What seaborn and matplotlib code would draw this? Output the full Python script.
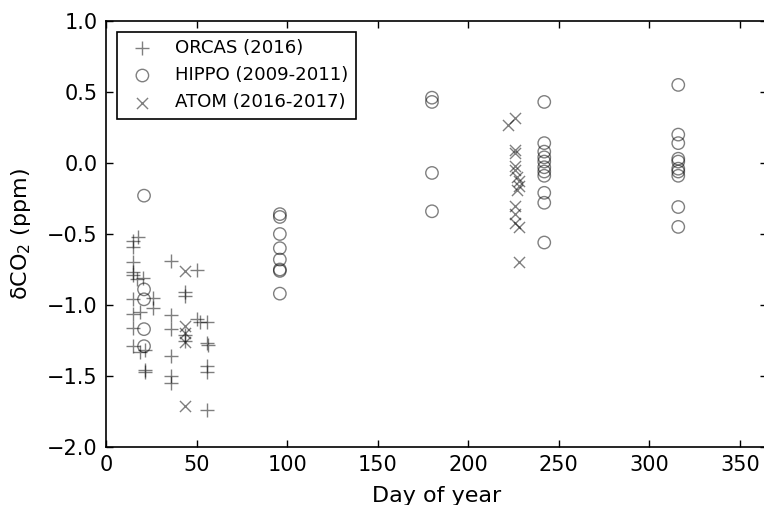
# Scatter of delta CO2 against day of year for three aircraft campaigns

import matplotlib
matplotlib.use('Agg')
import matplotlib.pyplot as plt
import seaborn as sns

# ORCAS (2016)
orcas_day = [17.8, 15.1, 15.1, 15.1, 15.1, 15.1, 17.0, 20.2, 15.1, 26.1, 26.1,
             18.8, 15.1, 15.1, 18.8, 21.5, 21.5, 15.1, 21.5,
             35.9, 50.1, 43.6, 43.6, 35.9, 35.9, 43.6, 43.6, 50.1, 52.0, 55.6,
             55.6, 56.5, 55.6, 55.6, 35.9, 35.9, 35.9, 55.6]
orcas_dco2 = [-0.52, -0.55, -0.59, -0.70, -0.77, -0.79, -0.82, -0.81, -0.96, -0.95, -1.02,
              -1.05, -1.16, -1.29, -1.33, -1.46, -1.47, -1.06, -1.32,
              -0.69, -0.75, -0.91, -0.94, -1.07, -1.17, -1.21, -1.25, -1.10, -1.12, -1.12,
              -1.27, -1.28, -1.43, -1.47, -1.36, -1.50, -1.55, -1.74]

# HIPPO (2009-2011)
hippo_day = [21, 21, 21, 21, 21,
             96, 96, 96, 96, 96, 96, 96, 96,
             180, 180, 180, 180,
             242, 242, 242, 242, 242, 242, 242, 242, 242, 242, 242,
             316, 316, 316, 316, 316, 316, 316, 316, 316, 316]
hippo_dco2 = [-0.23, -0.89, -0.96, -1.17, -1.29,
              -0.36, -0.38, -0.50, -0.60, -0.68, -0.75, -0.76, -0.92,
              0.46, 0.43, -0.07, -0.34,
              0.43, 0.14, 0.08, 0.04, 0.01, -0.03, -0.06, -0.09, -0.21, -0.28, -0.56,
              0.55, 0.20, 0.14, 0.03, 0.01, -0.04, -0.06, -0.09, -0.31, -0.45]

# ATOM (2016-2017)
atom_day = [43.6, 43.6, 43.6, 43.6, 43.6,
            226, 222, 226, 226, 226, 226, 227, 228, 228, 227, 226, 226, 226, 228, 228]
atom_dco2 = [-0.76, -1.15, -1.20, -1.26, -1.71,
             0.32, 0.27, 0.09, 0.07, -0.02, -0.05, -0.10, -0.13, -0.16, -0.19,
             -0.30, -0.36, -0.42, -0.45, -0.70]

sns.set_style('ticks', {'axes.edgecolor': 'k', 'text.color': 'k',
                        'axes.labelcolor': 'k', 'xtick.color': 'k', 'ytick.color': 'k'})
plt.rcParams['font.family'] = ['DejaVu Sans']
plt.rcParams['xtick.direction'] = 'in'
plt.rcParams['ytick.direction'] = 'in'
plt.rcParams['xtick.top'] = True
plt.rcParams['ytick.right'] = True

fig = plt.figure(figsize=(7.64, 5.05), dpi=100)
ax = fig.add_axes([106 / 764, 58 / 505, 661 / 764, 426 / 505])

sns.scatterplot(x=orcas_day, y=orcas_dco2, marker='+', s=100, color='k',
                alpha=0.5, linewidth=1, label='ORCAS (2016)', ax=ax)
sns.scatterplot(x=hippo_day, y=hippo_dco2, marker='o', s=80, facecolors='none',
                edgecolor='k', alpha=0.5, linewidth=1, label='HIPPO (2009-2011)', ax=ax)
sns.scatterplot(x=atom_day, y=atom_dco2, marker='x', s=64, color='k',
                alpha=0.5, linewidth=1, label='ATOM (2016-2017)', ax=ax)

ax.set_xlim(0, 365)
ax.set_ylim(-2.0, 1.0)
ax.set_xticks(range(0, 351, 50))
ax.set_yticks([-2.0, -1.5, -1.0, -0.5, 0.0, 0.5, 1.0])
ax.tick_params(labelsize=15, length=5, width=1, pad=6)
for s in ax.spines.values():
    s.set_linewidth(1.2)
ax.set_xlabel('Day of year', fontsize=16, labelpad=8)
ax.set_ylabel(r'$\mathregular{\delta CO_2}$ (ppm)', fontsize=16, labelpad=10)

leg = ax.legend(loc='upper left', fontsize=13.1, frameon=True, fancybox=False,
                edgecolor='k', framealpha=1, scatterpoints=1, borderaxespad=0.6)
leg.get_frame().set_linewidth(1.2)

fig.savefig('out.png', dpi=100)
